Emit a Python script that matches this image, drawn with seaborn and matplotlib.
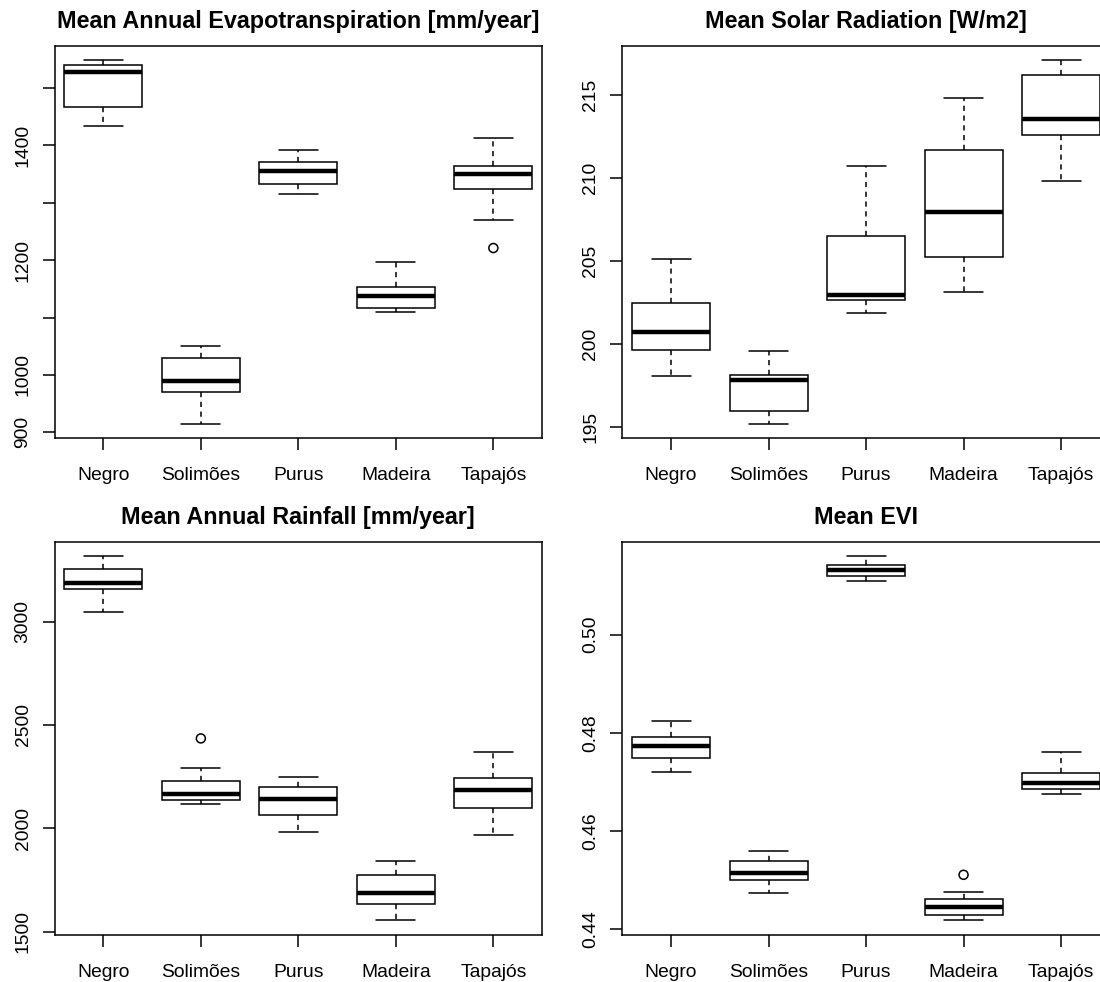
import numpy as np
import pandas as pd
import matplotlib
matplotlib.use("Agg")
import matplotlib.pyplot as plt
import seaborn as sns

# ---------------- data (five-number summaries) ----------------
groups = ["Negro", "Solimões", "Purus", "Madeira", "Tapajós"]

# Mean Annual Evapotranspiration [mm/year]
et_lo  = [1434, 915, 1315, 1110, 1270]
et_q1  = [1466, 971, 1332, 1116, 1323]
et_med = [1527, 990, 1356, 1138, 1350]
et_q3  = [1540, 1029, 1370, 1154, 1363]
et_hi  = [1548, 1050, 1392, 1197, 1413]
et_out_grp = ["Tapajós"]
et_out_val = [1221]
et_ticks  = [900, 1000, 1100, 1200, 1300, 1400, 1500]
et_labels = ["900", "1000", "", "1200", "", "1400", ""]

# Mean Solar Radiation [W/m2]
sr_lo  = [198.03, 195.18, 201.85, 203.15, 209.84]
sr_q1  = [199.64, 195.96, 202.61, 205.26, 212.61]
sr_med = [200.72, 197.81, 202.97, 207.93, 213.53]
sr_q3  = [202.43, 198.13, 206.51, 211.67, 216.22]
sr_hi  = [205.10, 199.54, 210.74, 214.84, 217.09]
sr_out_grp = []
sr_out_val = []
sr_ticks  = [195, 200, 205, 210, 215]
sr_labels = ["195", "200", "205", "210", "215"]

# Mean Annual Rainfall [mm/year]
rf_lo  = [3048, 2119, 1984, 1556, 1968]
rf_q1  = [3156, 2137, 2066, 1634, 2097]
rf_med = [3189, 2164, 2143, 1685, 2185]
rf_q3  = [3252, 2227, 2198, 1773, 2243]
rf_hi  = [3316, 2293, 2247, 1843, 2371]
rf_out_grp = ["Solimões"]
rf_out_val = [2435]
rf_ticks  = [1500, 2000, 2500, 3000]
rf_labels = ["1500", "2000", "2500", "3000"]

# Mean EVI
evi_lo  = [0.47197, 0.44728, 0.51095, 0.44177, 0.46755]
evi_q1  = [0.47476, 0.44986, 0.51190, 0.44279, 0.46857]
evi_med = [0.47735, 0.45143, 0.51313, 0.44442, 0.46973]
evi_q3  = [0.47912, 0.45374, 0.51422, 0.44599, 0.47170]
evi_hi  = [0.48231, 0.45578, 0.51599, 0.44748, 0.47612]
evi_out_grp = ["Madeira"]
evi_out_val = [0.45102]
evi_ticks  = [0.44, 0.46, 0.48, 0.50]
evi_labels = ["0.44", "0.46", "0.48", "0.50"]

titles = ["Mean Annual Evapotranspiration [mm/year]",
          "Mean Solar Radiation [W/m2]",
          "Mean Annual Rainfall [mm/year]",
          "Mean EVI"]

panels = [
    (et_lo, et_q1, et_med, et_q3, et_hi, et_out_grp, et_out_val, et_ticks, et_labels),
    (sr_lo, sr_q1, sr_med, sr_q3, sr_hi, sr_out_grp, sr_out_val, sr_ticks, sr_labels),
    (rf_lo, rf_q1, rf_med, rf_q3, rf_hi, rf_out_grp, rf_out_val, rf_ticks, rf_labels),
    (evi_lo, evi_q1, evi_med, evi_q3, evi_hi, evi_out_grp, evi_out_val, evi_ticks, evi_labels),
]

# ---------------- styling ----------------
sns.set_style("ticks")
plt.rcParams["font.family"] = ["Liberation Sans", "DejaVu Sans"]
plt.rcParams["text.color"] = "black"
plt.rcParams["axes.titlecolor"] = "black"

W, H = 1100, 982
fig = plt.figure(figsize=(W / 100, H / 100), dpi=100)

# axes rectangles in pixels: (left, top, right, bottom)
rects = [(54.6, 45.7, 542.1, 438.3),
         (622.3, 45.7, 1109.8, 438.3),
         (54.6, 541.7, 542.1, 934.7),
         (622.3, 541.7, 1109.8, 934.7)]

for (l, t, r, b), title, p in zip(rects, titles, panels):
    lo, q1, med, q3, hi, out_grp, out_val, ticks, labels = p
    ax = fig.add_axes([l / W, 1 - b / H, (r - l) / W, (b - t) / H])

    rows = []
    for g, a, bb, c, d, e in zip(groups, lo, q1, med, q3, hi):
        for v in (a, bb, c, d, e):
            rows.append((g, v))
    df = pd.DataFrame(rows, columns=["group", "value"])

    sns.boxplot(data=df, x="group", y="value", order=groups, ax=ax,
                whis=(0, 100), width=0.8, color="white", linecolor="black",
                linewidth=1.1, showfliers=False,
                boxprops=dict(facecolor="white", edgecolor="black", linewidth=1.1),
                medianprops=dict(color="black", linewidth=3.2, solid_capstyle="butt"),
                whiskerprops=dict(color="black", linewidth=1.1, linestyle=(0, (3.4, 3.0))),
                capprops=dict(color="black", linewidth=1.1))

    if out_val:
        xs = [groups.index(g) for g in out_grp]
        sns.scatterplot(x=xs, y=out_val, ax=ax, marker="o", s=42,
                        facecolor="none", edgecolor="black", linewidth=1.1, zorder=5)

    allv = list(lo) + list(hi) + list(out_val)
    vmin, vmax = min(allv), max(allv)
    pad = 0.04 * (vmax - vmin)
    ax.set_ylim(vmin - pad, vmax + pad)
    ax.set_xlim(-0.5, len(groups) - 0.5)

    ax.set_yticks(ticks)
    ax.set_yticklabels(labels)
    ax.set_xticks(range(len(groups)))
    ax.set_xticklabels(groups)
    ax.set_xlabel("")
    ax.set_ylabel("")

    for s in ax.spines.values():
        s.set_visible(True)
        s.set_linewidth(1.1)
        s.set_color("black")

    ax.tick_params(axis="both", direction="out", length=8.6, width=1.1,
                   color="black", labelsize=13.9, labelcolor="black")
    ax.tick_params(axis="x", pad=12.3)
    ax.tick_params(axis="y", pad=8.0)
    for lab in ax.get_yticklabels():
        lab.set_rotation(90)
        lab.set_va("center")
        lab.set_ha("right")

    ax.set_title(title, fontsize=16.8, fontweight="bold", pad=12.5, color="black")
    ax.grid(False)

fig.savefig("out.png", dpi=100)
